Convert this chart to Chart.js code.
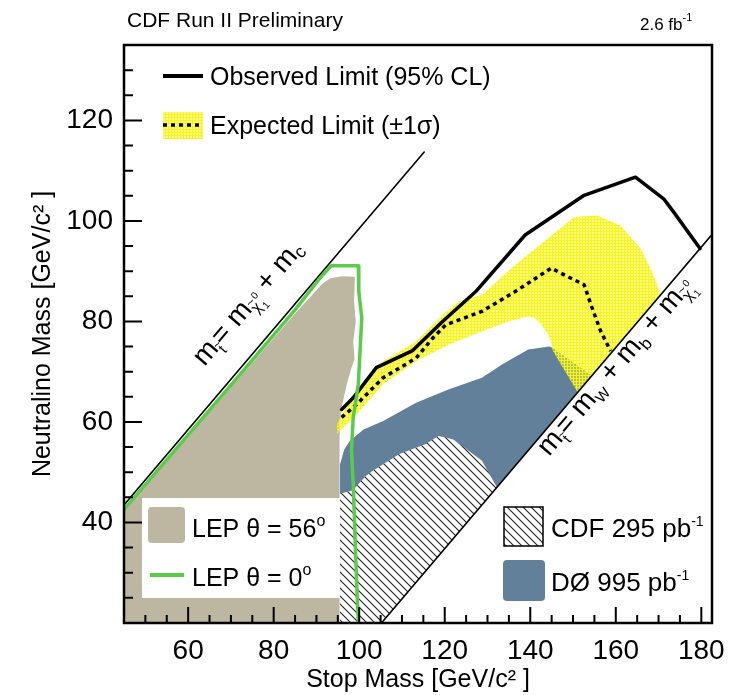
<!DOCTYPE html>
<html><head><meta charset="utf-8">
<script src="https://cdn.jsdelivr.net/npm/chart.js@4/dist/chart.umd.min.js"></script>
<style>html,body{margin:0;padding:0;background:#fff;overflow:hidden}</style>
</head><body>
<canvas id="c" width="736" height="695"></canvas>
<script>
// ---------- axis ticks ----------
const stopTickLabels = [60, 80, 100, 120, 140, 160, 180];
const chiTickLabels = [40, 60, 80, 100, 120];
const stopMinorTicks = [50, 55, 65, 70, 75, 85, 90, 95, 105, 110, 115, 125, 130, 135, 145, 150, 155, 165, 170, 175];
const chiMinorTicks = [25, 30, 35, 45, 50, 55, 65, 70, 75, 85, 90, 95, 105, 110, 115, 125, 130];

// ---------- regions / curves (stop mass, neutralino mass) ----------
const lep56Stop = [45, 45, 70, 85, 91.5, 93.3, 96, 99.0, 98.8, 99.2, 98.6, 98.9, 98.2, 97.1, 95.7, 95.4, 95.4, 45];
const lep56Chi  = [20, 42.3, 66.8, 81.6, 87.6, 88.6, 89.0, 88.9, 84.0, 80.0, 76.0, 72.5, 70.8, 67.5, 62.2, 56.9, 20, 20];

const lep0Stop = [45, 70, 85, 91.0, 93.5, 99.8, 99.9, 100.6, 100.2, 99.8, 98.6, 98.2, 98.6, 99.4, 99.8];
const lep0Chi  = [42.6, 67.3, 82.3, 88.8, 91.1, 91.1, 86.0, 80.7, 74.1, 67.5, 60.9, 54.3, 47.7, 27.9, 20];

const cdfStop = [95.5, 95.5, 98.5, 101.5, 103.2, 109.4, 115.6, 118.5, 120.2, 122, 124.1, 128.7, 132.2, 105.2, 95.5];
const cdfChi  = [20, 45.7, 46.4, 49.2, 50.3, 53.6, 55.6, 57.2, 56.9, 56.5, 55.2, 52.3, 47.0, 20, 20];

const d0Stop = [95.5, 95.5, 96.5, 97.8, 101, 105.6, 113.3, 121, 128.7, 133.3, 139.5, 144.5, 145.5, 154.4, 132.2, 120, 100, 95.5];
const d0Chi  = [44, 51.5, 54.5, 56.2, 58.5, 60.2, 63.8, 66.5, 68.8, 71.4, 74.4, 75.0, 74.6, 69.2, 47.0, 50, 44, 44];

const expBandStop = [94.8, 94.8, 97.1, 101, 105.6, 113.3, 119.5, 123.3, 128.7, 136.4, 144.1, 150.3, 155.7, 161.1, 165.8, 168.1, 169.6, 170.4, 151.1, 145.3, 144.8, 144.1, 142.5, 141.1, 139.5, 134.9, 128.7, 121, 113.3, 105.6, 99.4, 94.8];
const expBandChi  = [57.6, 59.5, 63.5, 68, 72.1, 76.0, 81.3, 84.0, 85.3, 91.2, 96.5, 100.8, 101.1, 99.1, 94.5, 90.6, 87.5, 85.2, 65.9, 74.1, 76.0, 77.5, 79.5, 80.7, 81.0, 80.0, 78.0, 75.4, 72.1, 67.5, 61.5, 57.6];

const expStop = [95.9, 99.4, 105.6, 113.3, 117, 120.2, 128.7, 136.4, 144.9, 148.8, 152.6, 154.2, 156.5, 158.8];
const expChi  = [60.9, 63.5, 68.8, 72.7, 76.5, 79.3, 82.0, 85.9, 90.6, 88.9, 87.3, 83.3, 78.0, 74.1];

const obsStop = [95.9, 98.6, 104, 112.5, 119.5, 127.2, 138.8, 152.6, 164.6, 171.2, 173.5, 179.7];
const obsChi  = [62.5, 64.8, 70.8, 74.2, 80.0, 85.9, 97.2, 105.1, 108.7, 104.4, 101.8, 94.5];

// kinematic limits: m_stop = m_chi + m_c  and  m_stop = m_W + m_b + m_chi
const charmLineStop = [45, 115.2];
const charmLineChi  = [43.5, 113.7];
const wbLineStop = [105.2, 186];
const wbLineChi  = [20, 100.8];

const pts = (xs, ys) => xs.map((x, i) => ({x, y: ys[i]}));

// ---------- patterns ----------
function hatchPattern() {
  const c = document.createElement('canvas'); c.width = 8; c.height = 8;
  const g = c.getContext('2d');
  g.fillStyle = '#fff'; g.fillRect(0, 0, 8, 8);
  g.strokeStyle = '#222'; g.lineWidth = 1.1;
  g.beginPath();
  g.moveTo(-1, -1); g.lineTo(9, 9);
  g.moveTo(-1, 7); g.lineTo(1, 9);
  g.moveTo(7, -1); g.lineTo(9, 1);
  g.stroke();
  return g.createPattern(c, 'repeat');
}
function yellowPattern() {
  const c = document.createElement('canvas'); c.width = 3; c.height = 3;
  const g = c.getContext('2d');
  g.fillStyle = 'rgba(246,244,30,1)';
  g.fillRect(0, 0, 3, 1); g.fillRect(0, 0, 1, 3);
  g.fillStyle = 'rgba(246,244,30,0.55)';
  g.fillRect(1, 1, 2, 2);
  return g.createPattern(c, 'repeat');
}
const HATCH = hatchPattern();
const YELLOW = yellowPattern();
const TAN = '#bdb7a1';
const BLUE = '#63809a';
const GREEN = '#5ccb4c';
const FONT = '"Liberation Sans", Arial, Helvetica, sans-serif';

function region(data, bg, order) {
  return {data, showLine: true, fill: 'shape', backgroundColor: bg, borderColor: 'rgba(0,0,0,0)',
          borderWidth: 0, pointRadius: 0, order, tension: 0};
}
function curve(data, color, width, order, dash) {
  return {data, showLine: true, fill: false, borderColor: color, borderWidth: width, pointRadius: 0,
          order, borderDash: dash || [], borderCapStyle: dash ? 'butt' : 'round', borderJoinStyle: 'round', tension: 0};
}

// ---------- rich text helper ----------
function rich(ctx, parts, x, y) {
  let cx = x;
  for (const p of parts) {
    ctx.font = `${p.s}px ${FONT}`;
    const w = ctx.measureText(p.t).width;
    ctx.fillText(p.t, cx, y + (p.dy || 0));
    if (p.tilde) {
      ctx.font = `${Math.round(p.s * 0.8)}px ${FONT}`;
      const tw = ctx.measureText('~').width;
      ctx.fillText('~', cx + (w - tw) / 2, y + (p.dy || 0) - p.s * 0.55);
    }
    let adv = w;
    if (p.sup || p.sub) {
      ctx.font = `${p.ss}px ${FONT}`;
      let ww = 0;
      if (p.sup) { ctx.fillText(p.sup, cx + w + 1, y + (p.dy || 0) + p.supdy); ww = Math.max(ww, ctx.measureText(p.sup).width); }
      if (p.sub) { ctx.fillText(p.sub, cx + w + 1, y + (p.dy || 0) + p.subdy); ww = Math.max(ww, ctx.measureText(p.sub).width); }
      adv += ww + 1;
    }
    cx += adv + (p.gap || 0);
  }
}

const decorPlugin = {
  id: 'decor',
  afterDatasetsDraw(chart) {
    const {ctx, chartArea: a, scales: {x, y}} = chart;
    ctx.save();
    // inward ticks
    ctx.strokeStyle = '#000'; ctx.lineWidth = 2;
    ctx.beginPath();
    for (const v of stopTickLabels) { const px = x.getPixelForValue(v); ctx.moveTo(px, a.bottom); ctx.lineTo(px, a.bottom - 16); }
    for (const v of stopMinorTicks) { const px = x.getPixelForValue(v); ctx.moveTo(px, a.bottom); ctx.lineTo(px, a.bottom - 8); }
    for (const v of chiTickLabels) { const py = y.getPixelForValue(v); ctx.moveTo(a.left, py); ctx.lineTo(a.left + 18, py); }
    for (const v of chiMinorTicks) { const py = y.getPixelForValue(v); ctx.moveTo(a.left, py); ctx.lineTo(a.left + 9, py); }
    ctx.stroke();
    // frame
    ctx.lineWidth = 2.5;
    ctx.strokeRect(a.left, a.top, a.right - a.left, a.bottom - a.top);

    ctx.fillStyle = '#000';
    ctx.textBaseline = 'alphabetic';
    // header
    ctx.font = `21px ${FONT}`;
    ctx.fillText('CDF Run II Preliminary', 127, 27);
    rich(ctx, [{t: '2.6 fb', s: 17}, {t: '-1', s: 11, dy: -9}], 640, 30);

    // kinematic line labels
    const ang = Math.atan2(y.getPixelForValue(charmLineChi[1]) - y.getPixelForValue(charmLineChi[0]),
                           x.getPixelForValue(charmLineStop[1]) - x.getPixelForValue(charmLineStop[0]));
    const nX = Math.sin(ang), nY = -Math.cos(ang); // perpendicular (up-left)
    // label 1 (above the charm line)
    const ox = x.getPixelForValue(68.8), oy = y.getPixelForValue(67.3);
    ctx.save(); ctx.translate(ox + nX * 28, oy + nY * 28); ctx.rotate(ang);
    rich(ctx, [
      {t: 'm', s: 28}, {t: 't', s: 15, dy: 7, tilde: true},
      {t: '= m', s: 28},
      {t: 'χ', s: 16, dy: 6, tilde: true, sup: '0', sub: '1', ss: 10, supdy: -11, subdy: 4},
      {t: ' + m', s: 28}, {t: 'c', s: 18, dy: 4}
    ], 0, 0);
    ctx.restore();
    // label 2 (below the W+b line)
    const q = x.getPixelForValue(140.8), r = y.getPixelForValue(140.8 - 85.2);
    ctx.save(); ctx.translate(q - nX * 20, r - nY * 20); ctx.rotate(ang);
    rich(ctx, [
      {t: 'm', s: 28}, {t: 't', s: 15, dy: 7, tilde: true},
      {t: '= m', s: 28}, {t: 'W', s: 15, dy: 6},
      {t: ' + m', s: 28}, {t: 'b', s: 17, dy: 6},
      {t: ' + m', s: 28},
      {t: 'χ', s: 16, dy: 6, tilde: true, sup: '0', sub: '1', ss: 10, supdy: -11, subdy: 4}
    ], 0, 0);
    ctx.restore();

    // ---- legends ----
    // observed
    ctx.strokeStyle = '#000'; ctx.lineWidth = 4; ctx.setLineDash([]);
    ctx.beginPath(); ctx.moveTo(163, 76); ctx.lineTo(203, 76); ctx.stroke();
    ctx.font = `25px ${FONT}`; ctx.fillStyle = '#000';
    ctx.fillText('Observed Limit (95% CL)', 210, 85);
    // expected
    ctx.fillStyle = YELLOW; ctx.fillRect(163, 112, 40, 27);
    ctx.lineWidth = 3.5; ctx.setLineDash([4, 4]);
    ctx.beginPath(); ctx.moveTo(163, 125); ctx.lineTo(203, 125); ctx.stroke();
    ctx.setLineDash([]);
    ctx.fillStyle = '#000';
    ctx.fillText('Expected Limit (±1σ)', 210, 134);
    // LEP box
    ctx.fillStyle = '#fff'; ctx.fillRect(142, 498, 198, 100);
    ctx.fillStyle = TAN; ctx.beginPath(); ctx.roundRect(148, 507, 37, 36, 4); ctx.fill();
    ctx.strokeStyle = GREEN; ctx.lineWidth = 4;
    ctx.beginPath(); ctx.moveTo(150, 575); ctx.lineTo(184, 575); ctx.stroke();
    ctx.fillStyle = '#000';
    rich(ctx, [{t: 'LEP θ = 56', s: 25}, {t: 'o', s: 16, dy: -11}], 192, 537);
    rich(ctx, [{t: 'LEP θ = 0', s: 25}, {t: 'o', s: 16, dy: -11}], 192, 586);
    // CDF / D0
    ctx.fillStyle = HATCH; ctx.fillRect(504, 507, 39, 39);
    ctx.strokeStyle = '#000'; ctx.lineWidth = 1.5; ctx.strokeRect(504, 507, 39, 39);
    ctx.fillStyle = BLUE; ctx.beginPath(); ctx.roundRect(503, 560, 42, 41, 4); ctx.fill();
    ctx.fillStyle = '#000';
    rich(ctx, [{t: 'CDF 295 pb', s: 26}, {t: '-1', s: 14, dy: -11}], 551, 537);
    rich(ctx, [{t: 'DØ 995 pb', s: 26}, {t: '-1', s: 14, dy: -11}], 551, 591);
    ctx.restore();
  }
};

new Chart(document.getElementById('c'), {
  type: 'scatter',
  data: {
    datasets: [
      region(pts(lep56Stop, lep56Chi), TAN, 20),
      region(pts(d0Stop, d0Chi), BLUE, 19),
      region(pts(cdfStop, cdfChi), HATCH, 18),
      region(pts(expBandStop, expBandChi), YELLOW, 17),
      curve(pts(expStop, expChi), '#000', 3.5, 15, [4, 4]),
      curve(pts(obsStop, obsChi), '#000', 3.5, 14),
      curve(pts(charmLineStop, charmLineChi), '#000', 1.6, 13),
      curve(pts(wbLineStop, wbLineChi), '#000', 1.6, 12),
      curve(pts(lep0Stop, lep0Chi), GREEN, 3.5, 11)
    ]
  },
  options: {
    responsive: false, animation: false, devicePixelRatio: 1,
    layout: {padding: {left: 0, right: 18, top: 45, bottom: 0}},
    plugins: {legend: {display: false}, tooltip: {enabled: false}},
    scales: {
      x: {
        type: 'linear', min: 45, max: 182.5,
        grid: {display: false, drawTicks: false}, border: {display: false},
        afterBuildTicks: s => { s.ticks = stopTickLabels.map(v => ({value: v})); },
        afterFit: s => { s.height = 72; },
        ticks: {font: {family: FONT, size: 28}, color: '#000', padding: 11, maxRotation: 0, autoSkip: false},
        title: {display: true, text: 'Stop Mass [GeV/c² ]', font: {family: FONT, size: 25}, color: '#000', padding: {top: 0, bottom: 0}}
      },
      y: {
        type: 'linear', min: 20, max: 135,
        grid: {display: false, drawTicks: false}, border: {display: false},
        afterBuildTicks: s => { s.ticks = chiTickLabels.map(v => ({value: v})); },
        afterFit: s => { s.width = 124; },
        ticks: {font: {family: FONT, size: 28}, color: '#000', padding: 11, autoSkip: false},
        title: {display: true, text: 'Neutralino Mass [GeV/c² ]', font: {family: FONT, size: 25}, color: '#000', padding: {top: 28, bottom: 0}}
      }
    }
  },
  plugins: [decorPlugin]
});
</script>
</body></html>
